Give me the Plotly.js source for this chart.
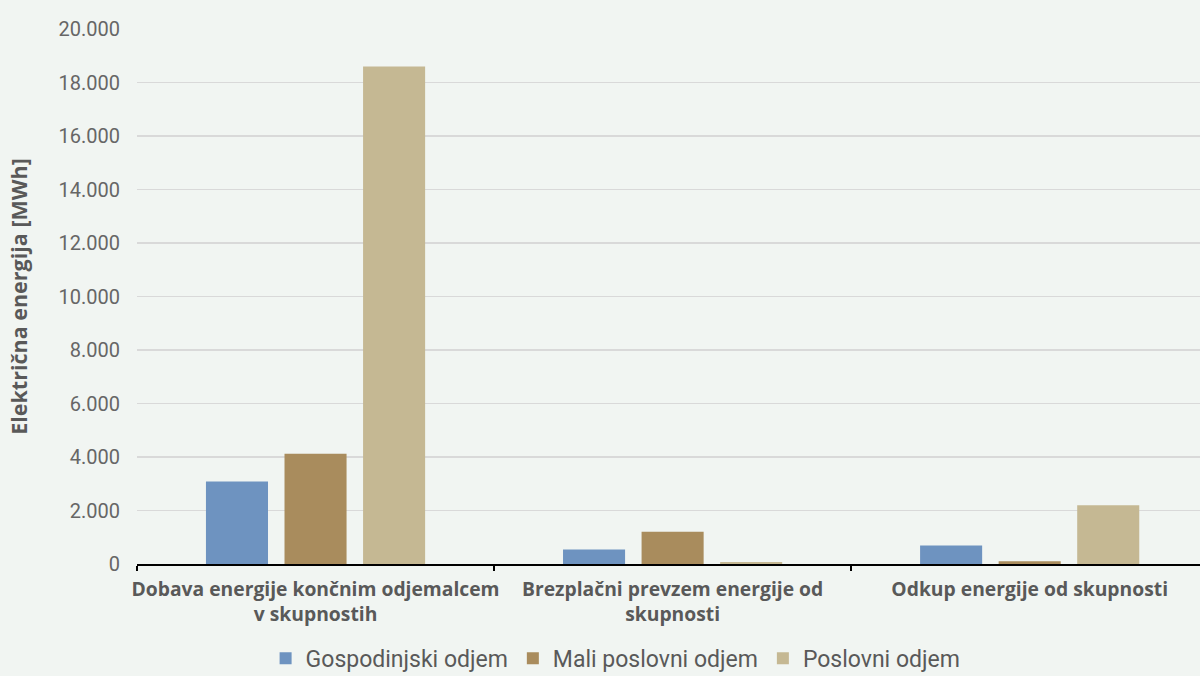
<!DOCTYPE html>
<html><head><meta charset="utf-8">
<script src="https://cdn.plot.ly/plotly-3.0.1.min.js"></script>
<style>html,body{margin:0;padding:0;background:#f1f5f2;}</style>
</head><body>
<div id="chart" style="width:1200px;height:676px;"></div>
<script>
const categories = ["Dobava energije končnim odjemalcem<br>v skupnostih", "Brezplačni prevzem energije od<br>skupnosti", "Odkup energije od skupnosti"];
const seriesNames = ["Gospodinjski odjem", "Mali poslovni odjem", "Poslovni odjem"];
const gospodinjski = [3080, 540, 690];
const maliPoslovni = [4120, 1210, 100];
const poslovni = [18600, 75, 2200];
const yTickVals = [0, 2000, 4000, 6000, 8000, 10000, 12000, 14000, 16000, 18000, 20000];
const yTickText = ["0", "2.000", "4.000", "6.000", "8.000", "10.000", "12.000", "14.000", "16.000", "18.000", "20.000"];
const colors = ["#6e93c0", "#a98c5d", "#c5b893"];

const values = [gospodinjski, maliPoslovni, poslovni];
const data = values.map((v, i) => ({
  type: "bar", x: categories, y: v, name: seriesNames[i],
  marker: {color: colors[i], line: {width: 0}}, hoverinfo: "none"
}));

const layout = {
  width: 1200, height: 676,
  paper_bgcolor: "#f1f5f2", plot_bgcolor: "#f1f5f2",
  margin: {l: 137, r: 0, t: 29, b: 112},
  barmode: "group", bargap: 0.34, bargroupgap: 0.21,
  font: {family: "Roboto, sans-serif", color: "#666666"},
  xaxis: {
    range: [-0.5, 2.477], showgrid: false, showline: true, linecolor: "#000000", linewidth: 1.5,
    ticks: "outside", tickson: "boundaries", ticklen: 5, tickcolor: "#000000", tickwidth: 1.5,
    tickangle: 0,
    tickfont: {size: 19.3, color: "#595959", family: "'Open Sans', sans-serif", weight: "bold"},
    ticklabelstandoff: 7,
    automargin: false
  },
  yaxis: {
    range: [0, 20000], tickvals: yTickVals, ticktext: yTickText,
    showgrid: true, gridcolor: "#d9d9d9", gridwidth: 1.5, zeroline: false, showline: false,
    tickfont: {size: 20, color: "#666666"}, ticklabelstandoff: 16,
    title: {text: "Električna energija [MWh]", font: {size: 21.5, color: "#595959", family: "'Open Sans', sans-serif", weight: "bold"}, standoff: 24},
    automargin: false
  },
  legend: {
    orientation: "h", x: 0.513, xanchor: "center", xref: "container", yref: "container", y: 0.058, yanchor: "top",
    font: {size: 23, color: "#595959"}, itemwidth: 30, tracegroupgap: 0
  },
  showlegend: true
};
Plotly.newPlot("chart", data, layout, {displayModeBar: false, staticPlot: true});
</script>
</body></html>
